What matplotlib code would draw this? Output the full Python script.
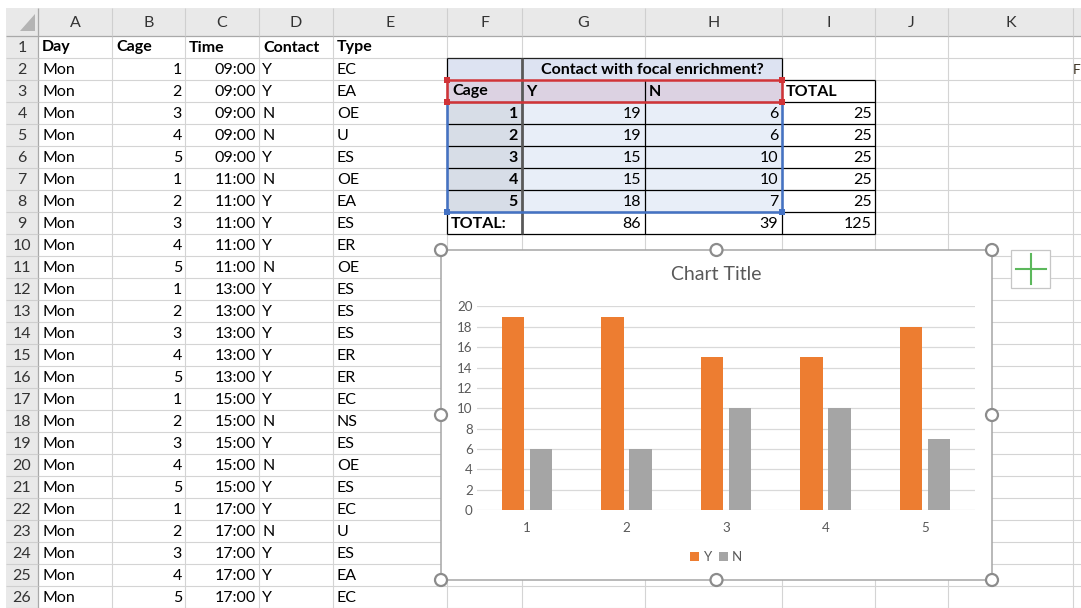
import matplotlib
matplotlib.use("Agg")
import matplotlib.pyplot as plt
from matplotlib.patches import Rectangle, Polygon, Circle
from matplotlib.lines import Line2D
import numpy as np

plt.rcParams['font.family'] = ['Lato', 'DejaVu Sans']

# ---- raw observation log (columns A-E) ----
day = ["Mon", "Mon", "Mon", "Mon", "Mon", "Mon", "Mon", "Mon", "Mon", "Mon",
       "Mon", "Mon", "Mon", "Mon", "Mon", "Mon", "Mon", "Mon", "Mon", "Mon",
       "Mon", "Mon", "Mon", "Mon", "Mon"]
cage = [1, 2, 3, 4, 5, 1, 2, 3, 4, 5, 1, 2, 3, 4, 5, 1, 2, 3, 4, 5, 1, 2, 3, 4, 5]
time = ["09:00", "09:00", "09:00", "09:00", "09:00",
        "11:00", "11:00", "11:00", "11:00", "11:00",
        "13:00", "13:00", "13:00", "13:00", "13:00",
        "15:00", "15:00", "15:00", "15:00", "15:00",
        "17:00", "17:00", "17:00", "17:00", "17:00"]
contact = ["Y", "Y", "N", "N", "Y", "N", "Y", "Y", "Y", "N",
           "Y", "Y", "Y", "Y", "Y", "Y", "N", "Y", "N", "Y",
           "Y", "N", "Y", "Y", "Y"]
ctype = ["EC", "EA", "OE", "U", "ES", "OE", "EA", "ES", "ER", "OE",
         "ES", "ES", "ES", "ER", "ER", "EC", "NS", "ES", "OE", "ES",
         "EC", "U", "ES", "EA", "EC"]
headers = ["Day", "Cage", "Time", "Contact", "Type"]
col_letters = ["A", "B", "C", "D", "E", "F", "G", "H", "I", "J", "K"]

# ---- summary table (F2:I9) ----
cages = [1, 2, 3, 4, 5]
contact_y = [19, 19, 15, 15, 18]
contact_n = [6, 6, 10, 10, 7]
series_names = ["Y", "N"]

# ---- sheet geometry (pixels) ----
W, H = 1081, 608
col_edges = [6, 38, 112, 185, 259, 333, 447, 522, 645, 782, 875, 948, 1073]
HEAD_TOP, ROW0, ROW_H = 8, 36, 22.0
n_rows = 26

def row_top(r):
    return ROW0 + (r - 1) * ROW_H

def row_mid(r):
    return row_top(r) + ROW_H / 2 + 0.5

fig = plt.figure(figsize=(W / 100, H / 100), dpi=100)
bg = fig.add_axes([0, 0, 1, 1])
bg.set_xlim(0, W)
bg.set_ylim(H, 0)
bg.axis("off")

FS = 11.5
grid_c = "#d4d4d4"

def rect(x0, y0, x1, y1, fc, ec="none", lw=0, z=1):
    bg.add_patch(Rectangle((x0, y0), x1 - x0, y1 - y0, facecolor=fc,
                           edgecolor=ec, linewidth=lw, zorder=z))

def line(xs, ys, c, lw, z=2):
    bg.add_line(Line2D(xs, ys, color=c, linewidth=lw, zorder=z,
                       solid_capstyle="butt"))

# cell gridlines
for r in range(1, n_rows + 1):
    line([38, W], [row_top(r) + ROW_H, row_top(r) + ROW_H], grid_c, 0.8)
for x in col_edges[2:]:
    line([x, x], [ROW0, H], grid_c, 0.8)

# header strip and row-number strip
rect(6, HEAD_TOP, W, ROW0, "#e9e9e9", z=1.5)
rect(6, ROW0, 38, H, "#e9e9e9", z=1.5)
line([6, W], [ROW0, ROW0], "#a9a9a9", 0.9, z=2)
line([38, 38], [HEAD_TOP, H], "#a9a9a9", 0.9, z=2)
for x in col_edges[2:]:
    line([x, x], [HEAD_TOP, ROW0], "#cfcfcf", 0.8, z=2)
for r in range(1, n_rows + 1):
    line([6, 38], [row_top(r) + ROW_H, row_top(r) + ROW_H], "#cfcfcf", 0.8, z=2)
bg.add_patch(Polygon([(20, 31), (35, 31), (35, 14)], closed=True,
                     facecolor="#b4b4b4", edgecolor="none", zorder=2))

for i, letter in enumerate(col_letters):
    xc = (col_edges[i + 1] + col_edges[i + 2]) / 2
    bg.text(xc, (HEAD_TOP + ROW0) / 2 + 1, letter, ha="center", va="center",
            fontsize=FS, color="#333333", zorder=3)
for r in range(1, n_rows + 1):
    bg.text(22, row_mid(r), str(r), ha="center", va="center",
            fontsize=FS, color="#333333", zorder=3)

# column headers in row 1
for i, h in enumerate(headers):
    bg.text(col_edges[i + 1] + 4, row_mid(1), h, ha="left", va="center",
            fontsize=FS, fontweight="bold", color="black", zorder=3)

# raw data rows
for k in range(len(day)):
    r = k + 2
    y = row_mid(r)
    bg.text(42, y, day[k], ha="left", va="center", fontsize=FS, zorder=3)
    bg.text(182, y, str(cage[k]), ha="right", va="center", fontsize=FS, zorder=3)
    bg.text(256, y, time[k], ha="right", va="center", fontsize=FS, zorder=3)
    bg.text(262, y, contact[k], ha="left", va="center", fontsize=FS, zorder=3)
    bg.text(337, y, ctype[k], ha="left", va="center", fontsize=FS, zorder=3)

# text starting in column L, at the right edge of the view
bg.text(1080, row_mid(2), "F", ha="right", va="center", fontsize=FS - 1.5,
        color="#3a3020", zorder=3)

# ---- summary table ----
xF, xG, xH, xI, xJ = 447, 522, 645, 782, 875
y2, y3, y4 = row_top(2), row_top(3), row_top(4)
y9, y10 = row_top(9), row_top(10)
rect(xF, y2, xI, y3, "#dde3f2", z=2.2)
rect(xF, y3, xI, y4, "#dcd2e2", z=2.2)
rect(xF, y4, xG, y9, "#d7dde7", z=2.2)
rect(xG, y4, xI, y9, "#e8eef8", z=2.2)
rect(xF, y9, xJ, y10, "white", z=2.2)
rect(xI, y3, xJ, y9, "white", z=2.2)

# inner lines of the table
for r in range(4, 10):
    line([xF, xJ], [row_top(r), row_top(r)], "black", 0.9, z=2.5)
line([xF, xI], [y2, y2], "#222222", 0.9, z=2.5)
line([xI, xJ], [y3, y3], "black", 0.9, z=2.5)
line([xF, xJ], [y10, y10], "black", 0.9, z=2.5)
line([xF, xF], [y2, y10], "black", 0.9, z=2.5)
line([xG, xG], [y2, y10], "#595959", 2.0, z=2.5)
line([xH, xH], [y3, y10], "black", 0.9, z=2.5)
line([xI, xI], [y2, y10], "black", 0.9, z=2.5)
line([xJ, xJ], [y3, y10], "black", 0.9, z=2.5)

bg.text((xG + xI) / 2, row_mid(2), "Contact with focal enrichment?", ha="center",
        va="center", fontsize=FS, fontweight="bold", zorder=3)
bg.text(xF + 5, row_mid(3), "Cage", ha="left", va="center", fontsize=FS,
        fontweight="bold", zorder=3)
bg.text(xG + 4, row_mid(3), series_names[0], ha="left", va="center",
        fontsize=FS, fontweight="bold", zorder=3)
bg.text(xH + 4, row_mid(3), series_names[1], ha="left", va="center",
        fontsize=FS, fontweight="bold", zorder=3)
bg.text(xI + 4, row_mid(3), "TOTAL", ha="left", va="center", fontsize=FS,
        fontweight="bold", zorder=3)
for k, c in enumerate(cages):
    y = row_mid(4 + k)
    bg.text(xG - 4, y, str(c), ha="right", va="center", fontsize=FS,
            fontweight="bold", zorder=3)
    bg.text(xH - 4, y, str(contact_y[k]), ha="right", va="center", fontsize=FS, zorder=3)
    bg.text(xI - 4, y, str(contact_n[k]), ha="right", va="center", fontsize=FS, zorder=3)
    bg.text(xJ - 3, y, str(contact_y[k] + contact_n[k]), ha="right", va="center",
            fontsize=FS, zorder=3)
bg.text(xF + 4, row_mid(9), "TOTAL:", ha="left", va="center", fontsize=FS,
        fontweight="bold", zorder=3)
bg.text(xH - 4, row_mid(9), str(sum(contact_y)), ha="right", va="center", fontsize=FS, zorder=3)
bg.text(xI - 4, row_mid(9), str(sum(contact_n)), ha="right", va="center", fontsize=FS, zorder=3)
bg.text(xJ - 3, row_mid(9), str(sum(contact_y) + sum(contact_n)), ha="right",
        va="center", fontsize=FS, zorder=3)

# selection outlines (series names in red, values in blue)
red, blue = "#d13438", "#4472c4"
line([xF, xI, xI, xF, xF], [y3, y3, y4, y4, y3], red, 1.8, z=2.8)
line([xF, xF, xI, xI], [y4, y9, y9, y4], blue, 1.8, z=2.7)
for (px, py) in [(xF, y3), (xI, y3), (xF, y4), (xI, y4)]:
    rect(px - 3, py - 3, px + 3, py + 3, red, z=2.9)
for (px, py) in [(xF, y9), (xI, y9)]:
    rect(px - 3, py - 3, px + 3, py + 3, blue, z=2.9)

# ---- embedded chart ----
CX0, CY0, CX1, CY1 = 441, 250, 992, 580
rect(CX0, CY0, CX1, CY1, "white", z=4)

PX0, PX1, PY0, PY1 = 477, 975, 306.5, 510
ax = fig.add_axes([PX0 / W, 1 - PY1 / H, (PX1 - PX0) / W, (PY1 - PY0) / H])
ax.patch.set_visible(False)
pos = np.arange(len(cages))
bw, off = 0.226, 0.1406
ax.bar(pos - off, contact_y, width=bw, color="#ed7d31", label=series_names[0], zorder=3)
ax.bar(pos + off, contact_n, width=bw, color="#a5a5a5", label=series_names[1], zorder=3)
ax.set_xlim(-0.5, len(cages) - 0.5)
ax.set_ylim(0, 20)
ax.set_yticks(np.arange(0, 21, 2))
ax.set_xticks(pos)
ax.set_xticklabels([str(c) for c in cages])
ax.yaxis.grid(True, color="#d9d9d9", linewidth=0.9, zorder=0)
ax.set_axisbelow(True)
for s in ax.spines.values():
    s.set_visible(False)
ax.tick_params(axis="both", length=0, labelsize=9.6, labelcolor="#595959")
ax.tick_params(axis="y", pad=3)
ax.tick_params(axis="x", pad=9)
leg = ax.legend(loc="center", bbox_to_anchor=(716 / W, 1 - 557 / H),
                bbox_transform=fig.transFigure, ncol=2, frameon=False,
                fontsize=9.6, handlelength=0.65, handleheight=0.65,
                handletextpad=0.3, columnspacing=0.6, borderpad=0)
for t in leg.get_texts():
    t.set_color("#595959")

# overlay for title, frame and handles
ov = fig.add_axes([0, 0, 1, 1])
ov.set_xlim(0, W)
ov.set_ylim(H, 0)
ov.axis("off")
ov.patch.set_visible(False)
ov.text((CX0 + CX1) / 2, 275, "Chart Title", ha="center", va="center",
        fontsize=14.0, color="#595959")
ov.add_patch(Rectangle((CX0, CY0), CX1 - CX0, CY1 - CY0, facecolor="none",
                       edgecolor="#a6a6a6", linewidth=1.1))
xm, ym = (CX0 + CX1) / 2, (CY0 + CY1) / 2
for (hx, hy) in [(CX0, CY0), (xm, CY0), (CX1, CY0), (CX0, ym), (CX1, ym),
                 (CX0, CY1), (xm, CY1), (CX1, CY1)]:
    ov.add_patch(Circle((hx, hy), 6, facecolor="white", edgecolor="#8c8c8c",
                        linewidth=1.6, zorder=5))

# chart elements button
ov.add_patch(Rectangle((1011, 250), 39, 38, facecolor="white",
                       edgecolor="#c6c6c6", linewidth=0.9, zorder=5))
ov.add_line(Line2D([1030.5, 1030.5], [254, 284], color="#5cb85c", linewidth=1.5, zorder=6))
ov.add_line(Line2D([1015.5, 1045.5], [269, 269], color="#5cb85c", linewidth=1.5, zorder=6))

fig.savefig("out.png", dpi=100)
